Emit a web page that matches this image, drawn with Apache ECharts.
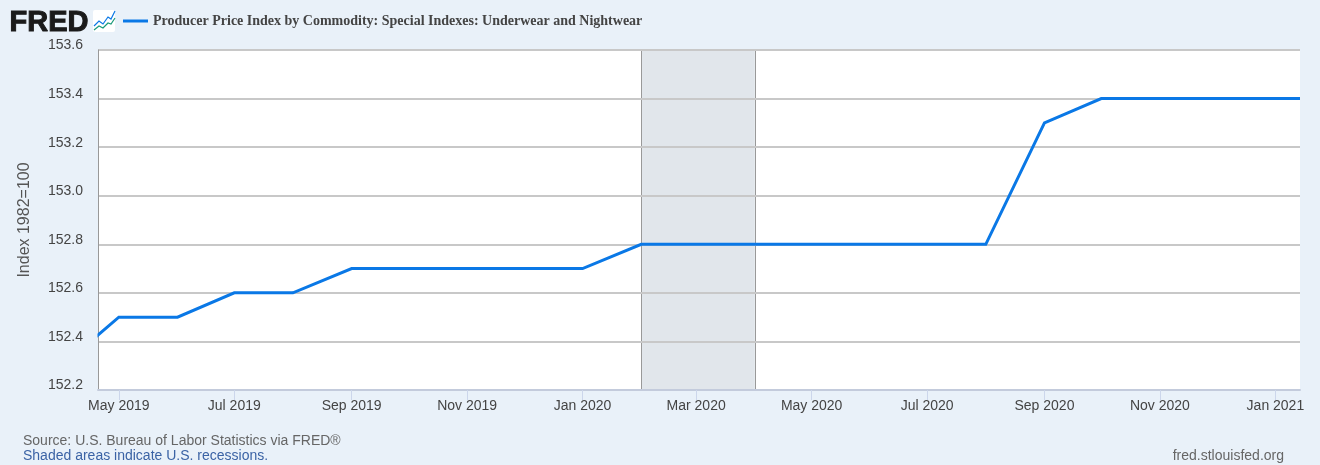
<!DOCTYPE html>
<html><head><meta charset="utf-8">
<style>html,body{margin:0;padding:0;background:#e9f1f9}#c{width:1320px;height:465px}</style>
<script src="https://cdn.jsdelivr.net/npm/echarts@6/dist/echarts.min.js"></script>
</head><body><div id="c"></div>
<script>
const seriesName = 'Producer Price Index by Commodity: Special Indexes: Underwear and Nightwear';
const months = ['2019-04-01','2019-05-01','2019-06-01','2019-07-01','2019-08-01','2019-09-01','2019-10-01','2019-11-01','2019-12-01','2020-01-01','2020-02-01','2020-03-01','2020-04-01','2020-05-01','2020-06-01','2020-07-01','2020-08-01','2020-09-01','2020-10-01','2020-11-01','2020-12-01','2021-01-01','2021-02-01'];
const values = [152.3,152.5,152.5,152.6,152.6,152.7,152.7,152.7,152.7,152.7,152.8,152.8,152.8,152.8,152.8,152.8,152.8,153.3,153.4,153.4,153.4,153.4,153.4];
const tickDates = ['2019-05-01','2019-07-01','2019-09-01','2019-11-01','2020-01-01','2020-03-01','2020-05-01','2020-07-01','2020-09-01','2020-11-01','2021-01-01'];
const tickLabels = ['May 2019','Jul 2019','Sep 2019','Nov 2019','Jan 2020','Mar 2020','May 2020','Jul 2020','Sep 2020','Nov 2020','Jan 2021'];
const recession = ['2020-02-01','2020-04-01'];
const xMin = '2019-04-20', xMax = '2021-01-14';
const ts = s => Date.parse(s + 'T00:00:00Z');
const tickTs = tickDates.map(ts);
const labelOf = Object.fromEntries(tickTs.map((t,i)=>[t,tickLabels[i]]));
const chart = echarts.init(document.getElementById('c'),null,{renderer:'canvas'});
const font = '"Liberation Sans", Arial, sans-serif';
chart.setOption({
  animation:false, backgroundColor:'#e9f1f9',
  grid:{left:98,top:50,right:20,bottom:75,containLabel:false,backgroundColor:'#fff',show:true,borderWidth:0},
  legend:{show:true,left:118,top:9,itemWidth:25,itemHeight:16,itemGap:5,
    data:[{name:seriesName,icon:'path://M0 0H25V3H0Z'}],
    textStyle:{fontFamily:'"Liberation Serif",serif',fontWeight:'bold',fontSize:14,color:'#444'}},
  xAxis:{type:'value',min:ts(xMin),max:ts(xMax),z:1.5,
    axisLine:{show:true,lineStyle:{color:'#c3cbdc',width:2}},
    axisTick:{show:true,length:10,customValues:tickTs,lineStyle:{color:'#ccd6eb',width:1}},
    axisLabel:{show:true,customValues:tickTs,margin:9,hideOverlap:false,showMinLabel:true,showMaxLabel:true,color:'#444',fontFamily:font,fontSize:14,
      formatter:v=>labelOf[v]||''},
    splitLine:{show:false}},
  yAxis:{type:'value',min:152.2,max:153.6,interval:0.2,z:1.5,
    name:'Index 1982=100',nameLocation:'middle',nameGap:65,nameRotate:90,
    nameTextStyle:{color:'#555',fontFamily:font,fontSize:16},
    axisLine:{show:true,lineStyle:{color:'#999',width:1}},axisTick:{show:false},
    axisLabel:{margin:15,color:'#444',fontFamily:font,fontSize:14,verticalAlign:'bottom',lineHeight:9,formatter:v=>v.toFixed(1)},
    splitLine:{show:true,lineStyle:{color:'#c8c8c8',width:2}}},
  series:[{name:seriesName,type:'line',z:3,showSymbol:false,clip:true,
    lineStyle:{color:'#0a78e6',width:3,join:'miter'},itemStyle:{color:'#0a78e6'},
    data:months.map((m,i)=>[ts(m),values[i]]),
    markArea:{silent:true,z:1,itemStyle:{color:'#e1e6eb',borderWidth:0},
      data:[[{xAxis:ts(recession[0])},{xAxis:ts(recession[1])}]]},
    markLine:{silent:true,z:1,symbol:'none',label:{show:false},lineStyle:{color:'#999',width:1,type:'solid'},
      data:recession.map(d=>({xAxis:ts(d)}))}
  }],
  graphic:[
    {type:'text',left:9,top:8,style:{text:'FRED',fontFamily:'"Liberation Sans",sans-serif',fontWeight:'bold',fontSize:29,fill:'#1a1a1a',stroke:'#1a1a1a',lineWidth:1}},
    {type:'rect',shape:{x:93,y:10,width:22,height:22,r:2},style:{fill:'#fff'}},
    {type:'polyline',shape:{points:[[94,26],[99,21],[103,24],[108,17],[111,19],[115,11]]},style:{stroke:'#0a78e6',fill:null,lineWidth:1.2}},
    {type:'polyline',shape:{points:[[94,30],[99,26],[103,28],[108,23],[111,24],[115,18]]},style:{stroke:'#1a9a7a',fill:null,lineWidth:1.2}},
    {type:'rect',z:10,shape:{x:93,y:300,width:4.5,height:60},style:{fill:'#e9f1f9'}},
    {type:'rect',z:10,shape:{x:1300,y:90,width:5,height:20},style:{fill:'#e9f1f9'}},
    {type:'text',left:23,top:434,style:{text:'Source: U.S. Bureau of Labor Statistics via FRED®',fontFamily:font,fontSize:14,fill:'#666'}},
    {type:'text',left:23,top:449,style:{text:'Shaded areas indicate U.S. recessions.',fontFamily:font,fontSize:14,fill:'#3b63a5'}},
    {type:'text',right:36,top:449,style:{text:'fred.stlouisfed.org',fontFamily:font,fontSize:14,fill:'#666'}}
  ]
});
</script></body></html>
